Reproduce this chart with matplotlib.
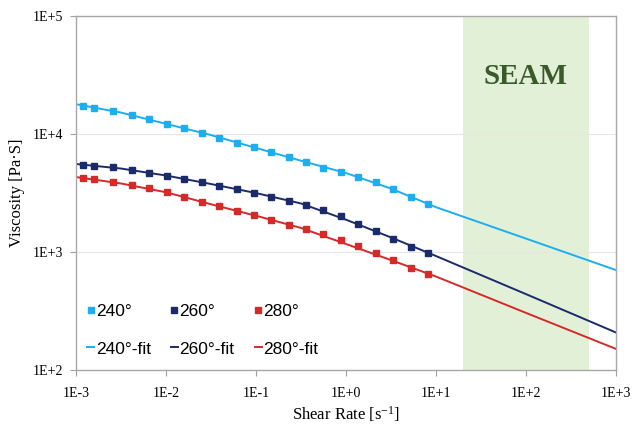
import math
import matplotlib
matplotlib.use('Agg')
import matplotlib.pyplot as plt
from matplotlib.ticker import FixedLocator, FuncFormatter

plt.rcParams['font.family'] = ['Liberation Serif', 'DejaVu Serif']
plt.rcParams['mathtext.default'] = 'regular'

# measured shear rates [1/s]
shear = [0.0012, 0.0016, 0.0026, 0.0042, 0.0065, 0.0103, 0.0158, 0.0251, 0.0388,
         0.0615, 0.095, 0.147, 0.233, 0.36, 0.555, 0.88, 1.36, 2.15, 3.33, 5.27, 8.15]

# measured viscosity [Pa.s]
visc_240 = [17400, 16700, 15700, 14400, 13300, 12200, 11200, 10300, 9300, 8400, 7700,
            7000, 6400, 5760, 5200, 4790, 4340, 3940, 3420, 2920, 2540]
visc_260 = [5490, 5390, 5220, 4960, 4700, 4430, 4180, 3900, 3650, 3400, 3180,
            2940, 2720, 2520, 2250, 2010, 1740, 1500, 1290, 1110, 975]
visc_280 = [4260, 4130, 3920, 3700, 3470, 3210, 2940, 2670, 2440, 2220, 2050,
            1850, 1690, 1560, 1420, 1260, 1120, 980, 850, 737, 652]

# fitted curves
fit_x = [0.001, 0.00316, 0.01, 0.0316, 0.1, 0.316, 1, 3.16, 10, 100, 1000]
fit_240 = [17900, 15200, 12200, 9800, 7620, 5940, 4670, 3450, 2400, 1300, 703]
fit_260 = [5570, 5100, 4450, 3770, 3160, 2580, 1880, 1330, 925, 440, 208]
fit_280 = [4320, 3810, 3210, 2540, 2030, 1600, 1170, 855, 620, 305, 151]

seam_range = (20, 500)

c240 = '#1eaef0'
c260 = '#1b2a6b'
c280 = '#d42a2a'

fig = plt.figure(figsize=(6.33, 4.25), dpi=100)
ax = fig.add_axes([0.120, 0.1294, 0.853, 0.8329])

ax.axvspan(seam_range[0], seam_range[1], color='#e2f0d7', zorder=0, lw=0)
ax.text(100, 31000, 'SEAM', ha='center', va='center', fontsize=21,
        fontweight='bold', color='#3b5a2a')

h1, = ax.plot(shear, visc_240, 's', color=c240, ms=4, ls='none')
h2, = ax.plot(shear, visc_260, 's', color=c260, ms=4, ls='none')
h3, = ax.plot(shear, visc_280, 's', color=c280, ms=4, ls='none')
f1, = ax.plot(fit_x, fit_240, '-', color=c240, lw=1.4)
f2, = ax.plot(fit_x, fit_260, '-', color=c260, lw=1.4)
f3, = ax.plot(fit_x, fit_280, '-', color=c280, lw=1.4)

ax.set_xscale('log')
ax.set_yscale('log')
ax.set_xlim(1e-3, 1e3)
ax.set_ylim(1e2, 1e5)

fmt = FuncFormatter(lambda v, p: '1E{:+d}'.format(int(round(math.log10(v)))))
ax.xaxis.set_major_locator(FixedLocator([10.0 ** e for e in range(-3, 4)]))
ax.yaxis.set_major_locator(FixedLocator([10.0 ** e for e in range(2, 6)]))
ax.xaxis.set_major_formatter(fmt)
ax.yaxis.set_major_formatter(fmt)
ax.minorticks_off()
ax.tick_params(labelsize=10, length=4, color='#a0a0a0')
ax.tick_params(axis='x', pad=8)
ax.tick_params(axis='y', pad=5)

ax.grid(True, axis='y', color='#e6e6e6', lw=0.8)
ax.set_axisbelow(True)
for s in ax.spines.values():
    s.set_color('#a8a8a8')
    s.set_linewidth(1.0)

ax.set_xlabel('Shear Rate [s$^{-1}$]', fontsize=12, labelpad=3)
ax.set_ylabel('Viscosity [Pa·S]', fontsize=12, labelpad=6)

ax.legend([h1, f1, h2, f2, h3, f3],
          ['240°', '240°-fit', '260°', '260°-fit', '280°', '280°-fit'],
          ncol=3, loc='lower left', bbox_to_anchor=(-0.008, -0.006), frameon=False,
          prop={'family': 'Liberation Sans', 'size': 12.5},
          handlelength=0.4, handletextpad=0.1, columnspacing=1.15,
          labelspacing=1.3, markerscale=1.0)

fig.savefig('out.png', dpi=100)
